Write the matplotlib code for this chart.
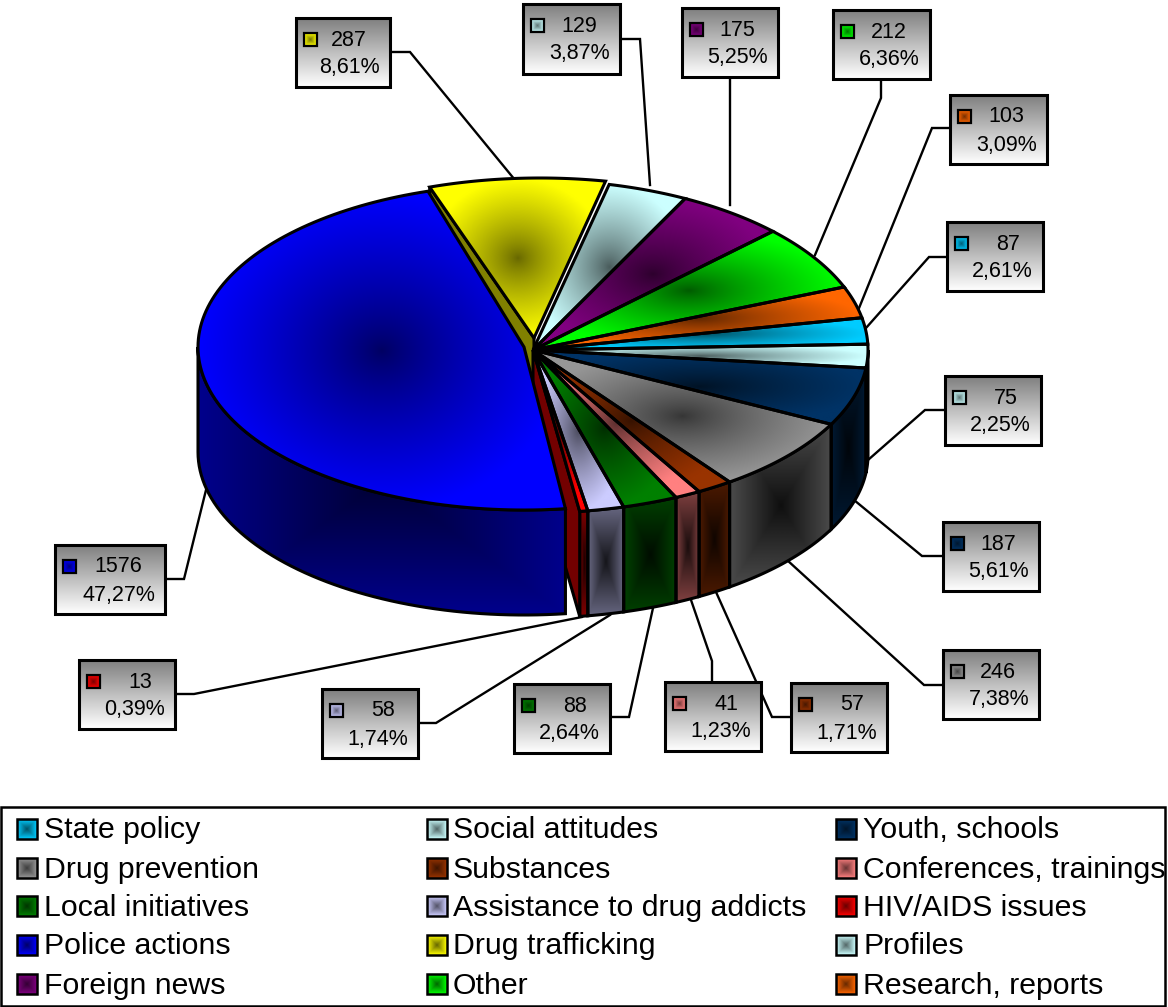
import numpy as np
import matplotlib
matplotlib.use("Agg")
import matplotlib.pyplot as plt
from matplotlib.patches import Polygon, Rectangle

plt.rcParams['font.family'] = ['Liberation Sans', 'DejaVu Sans']

# ---- data (clockwise from the upper right of the pie) ----
categories = ["State policy", "Social attitudes", "Youth, schools", "Drug prevention",
              "Substances", "Conferences, trainings", "Local initiatives",
              "Assistance to drug addicts", "HIV/AIDS issues", "Police actions",
              "Drug trafficking", "Profiles", "Foreign news", "Other", "Research, reports"]
values = [87, 75, 187, 246, 57, 41, 88, 58, 13, 1576, 287, 129, 175, 212, 103]
colors = [(0, 204, 255), (204, 255, 255), (0, 51, 102), (150, 150, 150), (153, 51, 0),
          (255, 128, 128), (0, 128, 0), (204, 204, 255), (255, 0, 0), (0, 0, 255),
          (255, 255, 0), (204, 255, 255), (128, 0, 128), (0, 255, 0), (255, 102, 0)]

# ---- layout ----
W, H = 1168, 1007
START = 11.7
CX, CY, RX, RY_UP, RY_DOWN, DEPTH = 533, 350, 335, 170, 163, 105
POLICE_C, POLICE_R = (524, 347), (326, 163)
TRAFF_C, TRAFF_R, TRAFF_APEX = (540, 336), (330, 158), (534, 338)
EDGE = 2.2

# label boxes x0, y0, x1, y1 and leader polyline, by category index
boxes = {
    0: ((947, 222, 1043, 291), [(947, 257), (929, 257), (866, 328)]),
    1: ((945, 376, 1041, 445), [(945, 410), (925, 410), (868, 460)]),
    2: ((943, 522, 1039, 591), [(943, 556), (922, 556), (854, 500)]),
    3: ((943, 650, 1039, 719), [(943, 685), (924, 685), (787, 560)]),
    4: ((791, 683, 887, 752), [(791, 717), (772, 717), (716, 592)]),
    5: ((665, 682, 761, 751), [(712, 682), (712, 661), (691, 600)]),
    6: ((514, 684, 610, 753), [(610, 717), (629, 717), (653, 608)]),
    7: ((322, 689, 418, 758), [(418, 723), (436, 723), (610, 615)]),
    8: ((79, 660, 175, 729), [(175, 694), (194, 694), (582, 617)]),
    9: ((55, 545, 165, 614), [(165, 579), (184, 579), (206, 490)]),
    10: ((296, 18, 390, 87), [(390, 52), (410, 52), (515, 180)]),
    11: ((523, 4, 620, 74), [(620, 39), (640, 39), (650, 185)]),
    12: ((682, 8, 778, 77), [(730, 77), (730, 205)]),
    13: ((833, 10, 930, 79), [(881, 79), (881, 98), (815, 255)]),
    14: ((950, 95, 1047, 164), [(950, 128), (932, 128), (855, 318)]),
}

fig = plt.figure(figsize=(W / 100, H / 100), dpi=100)
ax = fig.add_axes([0, 0, 1, 1])


def shaded(poly, rgb, lo, hi, mode, z, lw=EDGE):
    """Polygon filled with a gradient towards its bounding box centre."""
    poly = np.asarray(poly, float)
    x0, y0 = poly.min(axis=0)
    x1, y1 = poly.max(axis=0)
    nx, ny = max(int(x1 - x0) + 2, 3), max(int(y1 - y0) + 2, 3)
    u, v = np.meshgrid(np.linspace(-1, 1, nx), np.linspace(-1, 1, ny))
    if mode == "radial":
        t = np.clip(np.hypot(u, v), 0, 1) ** 0.8
    elif mode == "box":
        t = np.maximum(np.abs(u), np.abs(v))
    else:
        t = (v + 1) / 2
    f = lo + (hi - lo) * t
    base = np.array(rgb) / 255
    img = np.clip(f[..., None] * base, 0, 1)
    im = ax.imshow(img, extent=(x0, x1, y1, y0), aspect="auto", zorder=z,
                   interpolation="bilinear")
    im.set_clip_path(Polygon(poly, closed=True, transform=ax.transData))
    ax.add_patch(Polygon(poly, closed=True, fc="none", ec="black", lw=lw,
                         joinstyle="miter", zorder=z + 0.01))


def mapped(a):
    return a - 1.7 * np.sqrt(np.abs(np.sin(np.radians(a))))


def rim(angles, c=(CX, CY), r=None):
    th = np.radians(angles)
    s = np.sin(th)
    if r is None:
        ry = np.where(s > 0, RY_UP, RY_DOWN)
        rx = RX
    else:
        rx, ry = r
    return np.column_stack([c[0] + rx * np.cos(th), c[1] - ry * s])


total = sum(values)
spans = np.array(values) / total * 360
ends = START - np.cumsum(spans)
starts = ends + spans
idx_police = categories.index("Police actions")
idx_traff = categories.index("Drug trafficking")
idx_hiv = categories.index("HIV/AIDS issues")
drop = np.array([0, DEPTH])

# trafficking radial face (seen past the gap beside the police slice)
tr_a = np.linspace(starts[idx_traff], ends[idx_traff], 40)
tr_rim = rim(tr_a, TRAFF_C, TRAFF_R)
apex_t = np.array(TRAFF_APEX, float)
ax.add_patch(Polygon([apex_t, tr_rim[0], tr_rim[0] + drop, apex_t + drop], closed=True,
                     fc=(0.5, 0.5, 0), ec="black", lw=EDGE, zorder=2))

# side walls of the main body
for i in range(len(values)):
    if i in (idx_police, idx_traff):
        continue
    a0, a1 = mapped(starts[i]), mapped(ends[i])
    a0 = min(a0, 0)
    if a1 >= 0 or a0 <= -180:
        continue
    arc = rim(np.linspace(a0, a1, 30))
    shaded(np.vstack([arc, (arc + drop)[::-1]]), colors[i], 0.1, 0.5, "box", 3)

# radial face left open by the moved police slice
hiv_edge = rim(np.array([mapped(ends[idx_hiv])]))[0]
apex = np.array([CX, CY], float)
ax.add_patch(Polygon([apex, hiv_edge, hiv_edge + drop, apex + drop], closed=True,
                     fc=(0.45, 0, 0), ec="black", lw=EDGE, zorder=3.5))

# top surfaces of the main body
for i in range(len(values)):
    if i in (idx_police, idx_traff):
        continue
    arc = rim(np.linspace(mapped(starts[i]), mapped(ends[i]), 40))
    shaded(np.vstack([apex, arc]), colors[i], 0.35, 1.0, "radial", 4)

# drug trafficking top
shaded(np.vstack([apex_t, tr_rim]), colors[idx_traff], 0.4, 1.0, "radial", 5)

# police side and top
pa0, pa1 = starts[idx_police] - 2.4, ends[idx_police] - 2.4
side_a = np.linspace(pa0, -180, 60)
arc = rim(side_a, POLICE_C, POLICE_R)
shaded(np.vstack([arc, (arc + drop)[::-1]]), colors[idx_police], 0.2, 0.55, "box", 6)
arc = rim(np.linspace(pa0, pa1, 120), POLICE_C, POLICE_R)
shaded(np.vstack([POLICE_C, arc]), colors[idx_police], 0.38, 1.0, "radial", 7)

# data labels
for i, ((x0, y0, x1, y1), leader) in boxes.items():
    pts = np.array(leader)
    ax.plot(pts[:, 0], pts[:, 1], color="black", lw=1.7, zorder=1,
            solid_joinstyle="miter")
    shaded([(x0, y0), (x1, y0), (x1, y1), (x0, y1)], (255, 255, 255), 0.5, 1.0, "v", 9)
    shaded([(x0 + 8, y0 + 15), (x0 + 21, y0 + 15), (x0 + 21, y0 + 28), (x0 + 8, y0 + 28)],
           colors[i], 0.45, 1.0, "box", 10, lw=1.6)
    ax.text(x1 - 23, y0 + 22, str(values[i]), ha="right", va="center", fontsize=15.5, zorder=11)
    pct = f"{values[i] / total * 100:.2f}".replace(".", ",") + "%"
    ax.text(x1 - 10, y0 + 50, pct, ha="right", va="center", fontsize=15.5, zorder=11)

# legend
ax.add_patch(Rectangle((1, 807), 1164, 199, fc="white", ec="black", lw=1.8, zorder=9))
legend_order = list(range(15))
col_marker = [27, 437, 846]
col_text = [44, 453, 863]
row_y = [829, 868, 906, 945, 984]
for n, i in enumerate(legend_order):
    row, col = n // 3, n % 3
    mx, my = col_marker[col], row_y[row]
    shaded([(mx - 10, my - 10), (mx + 10, my - 10), (mx + 10, my + 10), (mx - 10, my + 10)],
           colors[i], 0.4, 1.0, "box", 10, lw=1.8)
    ax.text(col_text[col], my + 1.5, categories[i], ha="left", va="center", fontsize=21.8,
            zorder=11)

ax.set_xlim(0, W)
ax.set_ylim(H, 0)
ax.axis("off")
fig.savefig("out.png", dpi=100, facecolor="white")
